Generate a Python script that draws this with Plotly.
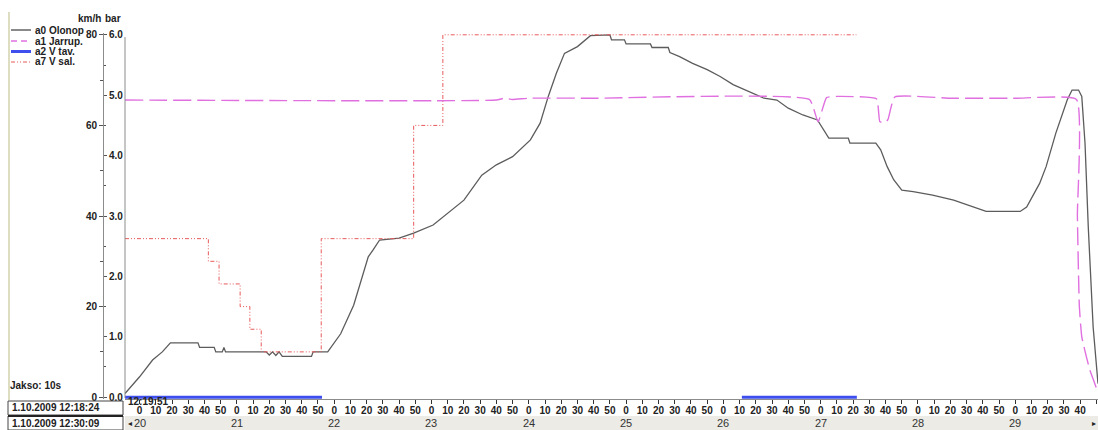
import plotly.graph_objects as go

# ---------------- data (time = seconds after 12:00:00, 1.10.2009) ----------------
t_olonop = [1191, 1200, 1208, 1214, 1219, 1236, 1237, 1246, 1247, 1251,
            1252, 1253, 1278, 1280, 1282, 1284, 1286, 1288, 1306, 1307,
            1316, 1324, 1332, 1341, 1344, 1348, 1360, 1369, 1381, 1391,
            1400, 1411, 1420, 1430, 1441, 1447, 1452, 1457, 1462, 1470,
            1478, 1490, 1491, 1499, 1500, 1515, 1516, 1526, 1527, 1533,
            1541, 1550, 1558, 1566, 1576, 1585, 1593, 1600, 1609, 1618,
            1625, 1637, 1638, 1654, 1657, 1661, 1665, 1670, 1677, 1689,
            1702, 1711, 1722, 1743, 1747, 1755, 1759, 1765, 1772, 1775,
            1779, 1781, 1783, 1785, 1788, 1791]
v_olonop = [0.8, 4.5, 8.2, 10, 12, 12, 11, 11, 10, 10,
            11, 10, 10, 9.3, 10, 9.2, 10, 9, 9, 10,
            10, 14, 20.3, 31, 32.5, 34.7, 35.1, 36.2, 38, 41,
            43.5, 49, 51.3, 53.1, 56.8, 60.5, 66.4, 71.5, 75.9, 77.4,
            79.8, 80, 78.9, 78.9, 78, 78, 77.2, 77.2, 76.1, 75.2,
            73.7, 72.3, 70.8, 69, 67.5, 66, 65.6, 63.8, 62.3, 61.2,
            57.2, 57.2, 56.1, 56.1, 54.6, 50.9, 48, 45.7, 45.4, 44.6,
            43.5, 42.4, 41, 41, 42, 47.2, 50.9, 58.3, 65.6, 67.8,
            67.8, 66.4, 56, 37.6, 15.5, 3]

t_jarrup = [1191, 1420, 1425, 1430, 1440, 1480, 1613, 1618.4, 1623.6, 1630,
            1654.4, 1656.5, 1660, 1661.5, 1665.7, 1700, 1740, 1777.7, 1778.3, 1779.5,
            1781, 1784, 1786, 1788, 1790, 1791]
p_jarrup = [4.92, 4.92, 4.95, 4.93, 4.95, 4.95, 4.93, 4.56, 4.96, 4.98,
            4.94, 4.56, 4.55, 4.6, 4.97, 4.95, 4.95, 4.93, 3.0, 1.5,
            1.0, 0.65, 0.45, 0.3, 0.15, 0.08]

t_vtav = [1191, 1312.5, None, 1571.4, 1642.3]
v_vtav = [0, 0, None, 0, 0]

t_vsal = [1191, 1242.4, 1249, 1262, 1268, 1275, 1312, 1369, 1387, 1642]
v_vsal = [35, 30, 25, 20, 15, 10, 35, 60, 80, 80]

tick_seconds = list(range(1200, 1791, 10))
tick_labels = [str(s % 60) for s in tick_seconds]
minutes = [20, 21, 22, 23, 24, 25, 26, 27, 28, 29]
kmh_ticks = [0, 20, 40, 60, 80]
bar_ticks = [0, 1, 2, 3, 4, 5, 6]
bar_labels = ["0.0", "1.0", "2.0", "3.0", "4.0", "5.0", "6.0"]

legend_names = ["a0 Olonop", "a1 Jarrup.", "a2 V tav.", "a7 V sal."]

# ---------------- layout geometry ----------------
W, H = 1098, 430
MT, MB = 33, 31
PH = H - MT - MB


def px(x):
    return x / W


def py(y):
    return (H - MB - y) / PH


FONT = "Liberation Sans"
C_GRAY = "#5c5c5c"
C_MAG = "#e070e0"
C_BLUE = "#3f4fee"
C_RED = "#e85a5a"
RED_DASH = "4px,2px,1px,2px,1px,2px"
MAG_DASH = "18px,6px"

fig = go.Figure()
fig.add_trace(go.Scatter(x=t_olonop, y=v_olonop, mode="lines", name=legend_names[0],
                         line=dict(color=C_GRAY, width=1.3), yaxis="y"))
fig.add_trace(go.Scatter(x=t_jarrup, y=p_jarrup, mode="lines", name=legend_names[1],
                         line=dict(color=C_MAG, width=1.4, dash=MAG_DASH, shape="spline", smoothing=0.4),
                         yaxis="y2"))
fig.add_trace(go.Scatter(x=t_vtav, y=v_vtav, mode="lines", name=legend_names[2],
                         line=dict(color=C_BLUE, width=3), yaxis="y", connectgaps=False))
fig.add_trace(go.Scatter(x=t_vsal, y=v_vsal, mode="lines", name=legend_names[3],
                         line=dict(color=C_RED, width=1, dash=RED_DASH, shape="hv"), yaxis="y"))

tickfont = dict(family=FONT, size=10, color="#222", weight="bold")

fig.update_layout(
    width=W, height=H,
    margin=dict(l=0, r=0, t=MT, b=MB),
    paper_bgcolor="white", plot_bgcolor="white",
    showlegend=False,
    xaxis=dict(range=[1191, 1791], domain=[125 / W, 1], showgrid=False, zeroline=False,
               showline=True, linecolor="#8c8c8c", linewidth=1,
               ticks="outside", ticklen=4, tickcolor="#333",
               tickvals=tick_seconds, ticktext=tick_labels, tickfont=tickfont,
               tickangle=0, ticklabelstandoff=-2),
    yaxis=dict(range=[-0.4, 80.4], anchor="free", position=103 / W, side="left",
               showgrid=False, zeroline=False, showline=True, linecolor="#8c8c8c",
               ticks="outside", ticklen=4, tickcolor="#555",
               tickvals=kmh_ticks, tickfont=tickfont,
               minor=dict(ticks="outside", ticklen=3, tickcolor="#555", tickvals=[10, 30, 50, 70])),
    yaxis2=dict(range=[-0.03, 6.03], anchor="free", position=103 / W, side="right",
                overlaying="y", showgrid=False, zeroline=False, showline=False,
                ticks="outside", ticklen=3, tickcolor="#555",
                tickvals=bar_ticks, ticktext=bar_labels, tickfont=tickfont,
                minor=dict(ticks="outside", ticklen=2, tickcolor="#555",
                           tickvals=[0.5, 1.5, 2.5, 3.5, 4.5, 5.5])),
)

shapes = []
annotations = []


def ann(text, x, y, size=10, bold=True, xanchor="left", color="#222", xref="paper", family=FONT):
    annotations.append(dict(text=text, x=(x if xref == "x" else px(x)), y=py(y),
                            xref=xref, yref="paper", showarrow=False,
                            xanchor=xanchor, yanchor="middle",
                            font=dict(family=family, size=size, color=color,
                                      weight="bold" if bold else "normal")))


def hline(x0, x1, y, color, width, dash="solid"):
    shapes.append(dict(type="line", xref="paper", yref="paper", x0=px(x0), x1=px(x1),
                       y0=py(y), y1=py(y), line=dict(color=color, width=width, dash=dash)))


# left frame line
shapes.append(dict(type="line", xref="paper", yref="paper", x0=px(9), x1=px(9),
                   y0=py(12), y1=py(400), line=dict(color="#d2d2ae", width=1.5)))
# plot-area left border
shapes.append(dict(type="line", xref="paper", yref="paper", x0=px(125), x1=px(125),
                   y0=py(37), y1=py(398), line=dict(color="#8c8c8c", width=1)))
# bottom scroll band
shapes.append(dict(type="rect", xref="paper", yref="paper", x0=px(125), x1=1,
                   y0=py(430), y1=py(416), fillcolor="#ecebe6", line=dict(width=0), layer="below"))
# date boxes
shapes.append(dict(type="rect", xref="paper", yref="paper", x0=px(8), x1=px(123),
                   y0=py(415), y1=py(401), fillcolor="white", line=dict(color="#444", width=1)))
shapes.append(dict(type="rect", xref="paper", yref="paper", x0=px(8), x1=px(123),
                   y0=py(430), y1=py(416), fillcolor="white", line=dict(color="#444", width=1)))
hline(8, 123, 416, "#222", 2)

# legend
leg_y = [30, 41, 51.5, 62]
hline(11, 31, leg_y[0], "#8a8a8a", 2)
hline(11, 31, leg_y[1], C_MAG, 1.5, "6px,4px")
hline(11, 31, leg_y[2], C_BLUE, 3)
hline(11, 31, leg_y[3], C_RED, 1, RED_DASH)
for name, yy in zip(legend_names, leg_y):
    ann(name, 33, yy, size=10)

ann("km/h", 89, 18, size=10, xanchor="center")
ann("bar", 113, 18, size=10, xanchor="center")
ann("Jakso: 10s", 8, 385, size=10)
ann("1.10.2009 12:18:24", 10, 408, size=10)
ann("1.10.2009 12:30:09", 10, 423, size=10)
ann("12:19:51", 126, 402, size=10)

for m in minutes:
    ann(str(m), m * 60, 423, size=11, bold=False, xanchor="center", color="#333", xref="x")
ann("◂", 130, 423, size=8, bold=False, xanchor="center", color="#222", family="DejaVu Sans")
ann("▸", 1094, 423, size=8, bold=False, xanchor="center", color="#222", family="DejaVu Sans")

fig.update_layout(shapes=shapes, annotations=annotations)
fig.write_html("out.html",
               config={"displayModeBar": False},
               post_script="document.body.style.margin='0';document.body.style.padding='0';"
                           "document.body.style.overflow='hidden';")
